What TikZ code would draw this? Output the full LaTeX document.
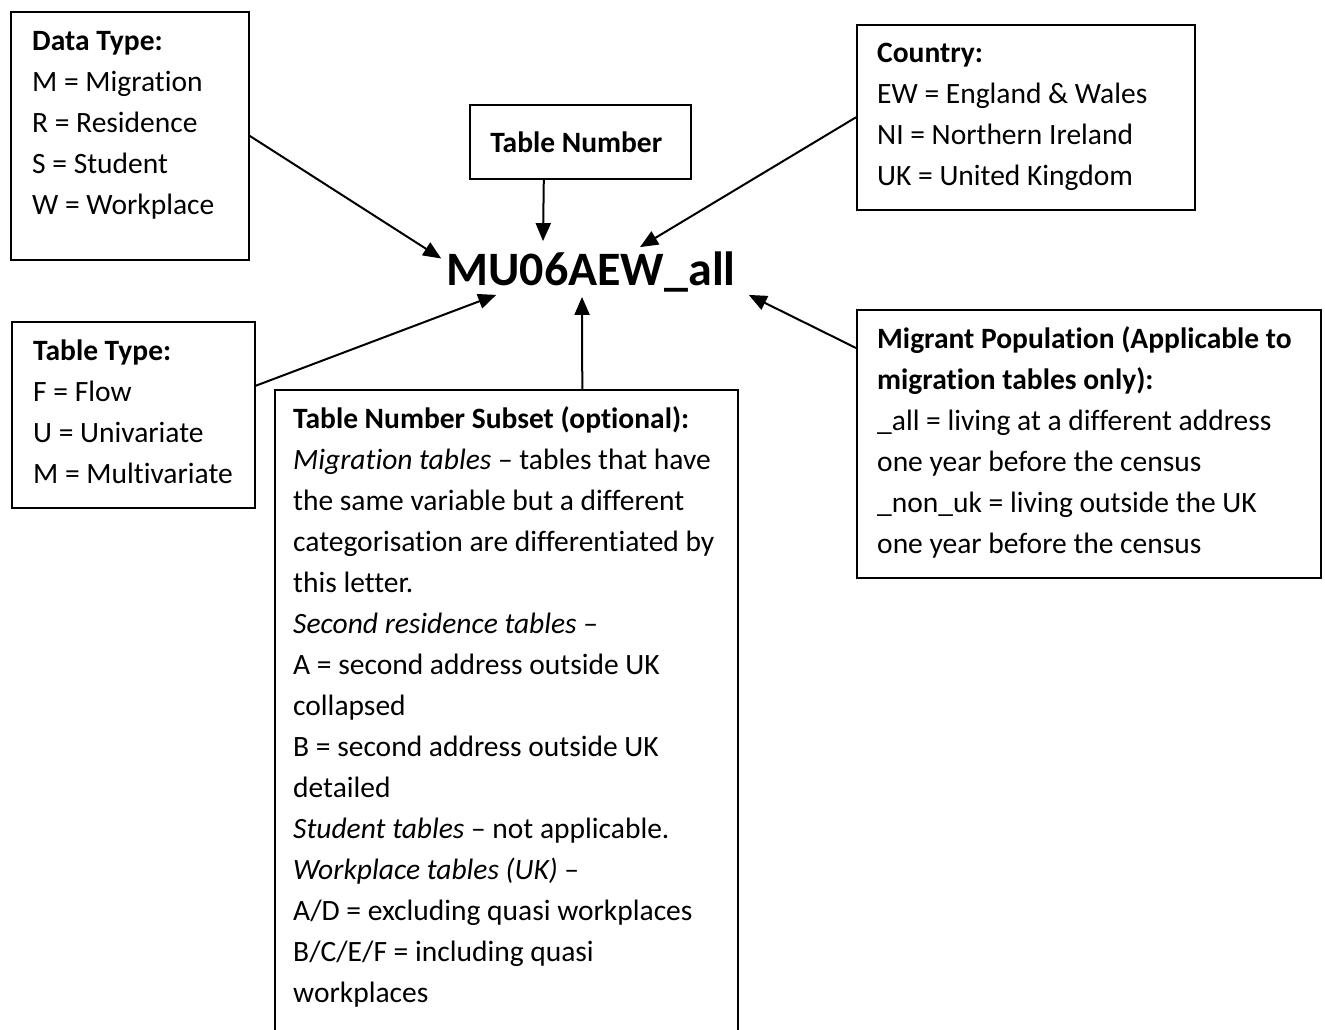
\documentclass[tikz,border=0pt]{standalone}
\usepackage{fontspec}
\setmainfont{Carlito}[RawFeature=-liga]
\usetikzlibrary{positioning,arrows.meta}

\begin{document}
\begin{tikzpicture}[
  x=1pt, y=-1pt,
  font=\fontsize{29.5}{41}\selectfont,
  >={Triangle[length=18pt,width=15pt]},
  infobox/.style={
    rectangle, draw=black, line width=1.6pt,
    anchor=north west, inner sep=0pt
  },
  desc/.style={
    anchor=north west, inner sep=0pt, align=left
  },
  arr/.style={->, line width=2pt, draw=black}
]
\clip (0,0) rectangle (1325,1030);

% boxes
\node[infobox, minimum width=238pt, minimum height=248pt] (datatype) at (10,11) {};
\node[infobox, minimum width=221pt, minimum height=74pt] (tabnum) at (469,104)
  {\hspace*{-8pt}\raisebox{-4pt}{\textbf{Table Number}}};
\node[infobox, minimum width=338pt, minimum height=185pt] (country) at (856,24) {};
\node[infobox, minimum width=243pt, minimum height=186pt] (tabtype) at (11,321) {};
\node[infobox, minimum width=463pt, minimum height=700pt] (subset) at (274,389) {};
\node[infobox, minimum width=464pt, minimum height=268pt] (migrant) at (856,309) {};

% texts
\node[desc] (datatypetxt) at ([shift={(22pt,-11pt)}]datatype.north west) {%
  \strut\textbf{Data Type:}\\
  M = Migration\\
  R = Residence\\
  S = Student\\
  W = Workplace};
\node[desc] (countrytxt) at ([shift={(21pt,-10pt)}]country.north west) {%
  \strut\textbf{Country:}\\
  EW = England \& Wales\\
  NI = Northern Ireland\\
  UK = United Kingdom};
\node[desc] (tabtypetxt) at ([shift={(22pt,-11pt)}]tabtype.north west) {%
  \strut\textbf{Table Type:}\\
  F = Flow\\
  U = Univariate\\
  M = Multivariate};
\node[desc] (subsettxt) at ([shift={(19pt,-11pt)}]subset.north west) {%
  \strut\textbf{Table Number Subset (optional):}\\
  \textit{Migration tables} -- tables that have\\
  the same variable but a different\\
  categorisation are differentiated by\\
  this letter.\\
  \textit{Second residence tables} --\\
  A = second address outside UK\\
  collapsed\\
  B = second address outside UK\\
  detailed\\
  \textit{Student tables} -- not applicable.\\
  \textit{Workplace tables (UK)} --\\
  A/D = excluding quasi workplaces\\
  B/C/E/F = including quasi\\
  workplaces};
\node[desc] (migranttxt) at ([shift={(21pt,-11pt)}]migrant.north west) {%
  \strut\textbf{Migrant Population (Applicable to}\\
  \textbf{migration tables only):}\\
  \_all = living at a different address\\
  one year before the census\\
  \_non\_uk = living outside the UK\\
  one year before the census};

% table code
\node[font=\fontsize{48}{56}\selectfont\bfseries, inner sep=0pt, anchor=base]
  (code) at (591,285) {MU06AEW\_all};

% arrows
\draw[arr] ([xshift=-36.5pt]tabnum.south) -- ([shift={(-48pt,10pt)}]code.north);
\draw[arr] (datatype.east) -- ([shift={(-5pt,13pt)}]code.west);
\draw[arr] (country.west) -- ([shift={(49pt,4pt)}]code.north);
\draw[arr] ([yshift=29pt]tabtype.east) -- ([shift={(50pt,-3pt)}]code.south west);
\draw[arr] ([xshift=76pt]subset.north) -- ([shift={(-9pt,-5pt)}]code.south);
\draw[arr] ([yshift=-39pt]migrant.north west) -- ([shift={(13pt,-3pt)}]code.south east);
\end{tikzpicture}
\end{document}
